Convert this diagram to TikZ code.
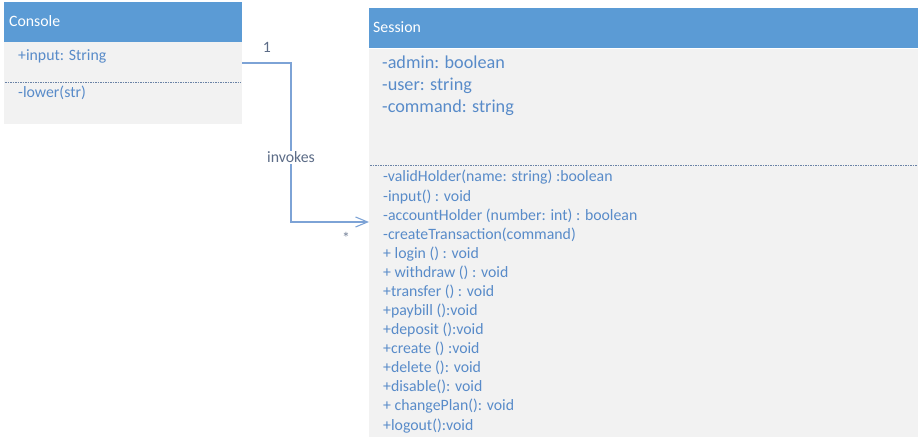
\documentclass[tikz,border=0pt]{standalone}
\usepackage{fontspec}
\setmainfont{Carlito}
\usetikzlibrary{arrows.meta}

\definecolor{hdrblue}{RGB}{91,155,213}
\definecolor{bodygray}{RGB}{242,242,242}
\definecolor{membblue}{RGB}{88,139,201}
\definecolor{linkblue}{RGB}{125,163,214}
\definecolor{lblgray}{RGB}{92,108,135}
\definecolor{sepgray}{RGB}{105,130,165}

\tikzset{
  classbody/.style={fill=bodygray, draw=none, anchor=north west},
  classhead/.style={fill=hdrblue, draw=none, anchor=north west},
  headtext/.style={anchor=base west, text=white, font=\fontsize{15.8}{19}\selectfont},
  member/.style={anchor=base west, text=membblue, font=\fontsize{15.8}{19}\selectfont},
  attrib/.style={anchor=base west, text=membblue, font=\fontsize{18.2}{22}\selectfont},
  sepline/.style={draw=sepgray, line width=0.6pt, dash pattern=on 1.5pt off 1pt},
  link/.style={draw=linkblue, line width=1.2pt, -{Straight Barb[length=12pt,width=10pt,line width=1.1pt]}},
  linklabel/.style={text=lblgray, font=\fontsize{15.8}{19}\selectfont}
}

\begin{document}
\begin{tikzpicture}[x=1pt, y=-1pt, every node/.style={inner sep=0pt}]
  \def\mstep{19.08}
  \def\astep{22.3}

  \useasboundingbox (0,0) rectangle (921,443);

  % Console class
  \node[classbody, minimum width=238pt, minimum height=122pt] (console) at (4,2) {};
  \node[classhead, minimum width=238pt, minimum height=40pt] (consolehead) at (4,2) {};
  \node[headtext] (consoletitle) at (9,27) {Console};
  \node[member] (cinput) at (18,60.5) {+input: String};
  \draw[sepline] (5,82) -- (241,82);
  \node[member] (clower) at (18,98) {-lower(str)};

  % Session class
  \node[classbody, minimum width=549pt, minimum height=429pt] (session) at (369,8) {};
  \node[classhead, minimum width=549pt, minimum height=40pt] (sessionhead) at (369,8) {};
  \draw[white, line width=1pt] (369,48.5) -- (918,48.5);
  \node[headtext] (sessiontitle) at (373,32.5) {Session};

  \foreach \a [count=\k] in {-admin: boolean, -user: string, -command: string} {
    \pgfmathsetmacro\y{68.3 + (\k-1)*\astep}
    \node[attrib] (a\k) at (382,\y) {\a};
  }

  \draw[sepline] (370,165) -- (917,165);

  \foreach \m [count=\k] in {
      -validHolder(name: string) :boolean,
      -input() : void,
      -accountHolder (number: int) : boolean,
      -createTransaction(command),
      + login () : void,
      + withdraw () : void,
      +transfer () : void,
      +paybill ():void,
      +deposit ():void,
      +create () :void,
      +delete (): void,
      +disable(): void,
      + changePlan(): void,
      +logout():void} {
    \pgfmathsetmacro\y{182 + (\k-1)*\mstep}
    \node[member] (m\k) at (383,\y) {\m};
  }

  % association
  \draw[link] ([yshift=-61pt]console.north east) -- ++(48.5,0)
    |- ([yshift=-214pt]session.north west);
  \node[linklabel, anchor=base] (one) at (267,52.5) {1};
  \node[linklabel, anchor=base, fill=white, inner sep=1pt] (invokes) at (291,162.5) {invokes};
  \node[linklabel, text=lblgray!85] (many) at (346,238) {*};
\end{tikzpicture}
\end{document}
